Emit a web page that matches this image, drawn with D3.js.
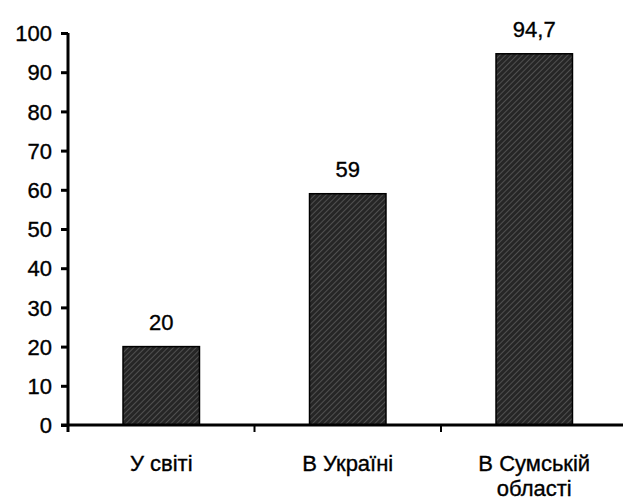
<!DOCTYPE html>
<html><head><meta charset="utf-8">
<script src="https://cdn.jsdelivr.net/npm/d3@7"></script>
<style>body{margin:0;background:#fff}svg{display:block}text{font-family:"Liberation Sans",Arial,sans-serif;fill:#000;stroke:#000;stroke-width:0.35px}</style>
</head><body>
<svg id="c" width="623" height="502"></svg>
<script>
const categories = [["У світі"], ["В Україні"], ["В Сумській", "області"]];
const values = [20, 59, 94.7];
const valueLabels = ["20", "59", "94,7"];
const yTicks = [0,10,20,30,40,50,60,70,80,90,100];

const svg = d3.select("#c");
const x = d3.scaleBand().domain(d3.range(categories.length)).range([68, 627.5]).paddingInner(0.59).paddingOuter(0.295);
const y = d3.scaleLinear().domain([0,100]).range([425, 33]);

const defs = svg.append("defs");
const pat = defs.append("pattern").attr("id","hatch").attr("patternUnits","userSpaceOnUse")
  .attr("width",4).attr("height",4).attr("patternTransform","rotate(45)");
pat.append("rect").attr("width",4).attr("height",4).attr("fill","#262626");
pat.append("line").attr("x1",0).attr("y1",0).attr("x2",0).attr("y2",4).attr("stroke","#7a7a7a").attr("stroke-width",1);

svg.selectAll("rect.bar").data(values).enter().append("rect").attr("class","bar")
  .attr("x",(d,i)=>x(i)).attr("width",x.bandwidth())
  .attr("y",d=>y(d)).attr("height",d=>y(0)-y(d))
  .attr("fill","url(#hatch)").attr("stroke","#000").attr("stroke-width",1.5);

svg.selectAll("text.val").data(values).enter().append("text").attr("class","val")
  .attr("x",(d,i)=>x(i)+x.bandwidth()/2).attr("y",d=>y(d)-17)
  .attr("text-anchor","middle").attr("font-size",22).text((d,i)=>valueLabels[i]);

// Y axis
const yAxis = d3.axisLeft(y).tickValues(yTicks).tickSize(7).tickPadding(9).tickFormat(d3.format("d"));
const gy = svg.append("g").attr("transform","translate(68,0)").call(yAxis);
gy.attr("font-size",22).attr("font-family","Liberation Sans, Arial, sans-serif");
gy.select(".domain").attr("stroke","#000").attr("stroke-width",3).attr("d","M0,33V425");
gy.selectAll(".tick line").attr("stroke","#000").attr("stroke-width",3);
gy.selectAll(".tick text").attr("font-size",22).attr("dy","0.35em");

// X axis
const gx = svg.append("g").attr("transform","translate(0,425)");
gx.append("line").attr("x1",61).attr("x2",623).attr("y1",0).attr("y2",0).attr("stroke","#000").attr("stroke-width",3);
gx.selectAll("line.tk").data(d3.range(1,categories.length)).enter().append("line").attr("class","tk")
  .attr("x1",i=>x(i)-x.step()*x.paddingInner()/2).attr("x2",i=>x(i)-x.step()*x.paddingInner()/2)
  .attr("y1",0).attr("y2",7).attr("stroke","#000").attr("stroke-width",2);
gx.append("line")
  .attr("x1",68).attr("x2",68).attr("y1",0).attr("y2",7).attr("stroke","#000").attr("stroke-width",3);

const lab = svg.selectAll("text.cat").data(categories).enter().append("text").attr("class","cat")
  .attr("text-anchor","middle").attr("font-size",22)
  .attr("transform",(d,i)=>`translate(${x(i)+x.bandwidth()/2},471)`);
lab.selectAll("tspan").data(d=>d).enter().append("tspan").attr("x",0).attr("dy",(d,j)=>j? "1.15em":0).text(d=>d);
</script>
</body></html>
